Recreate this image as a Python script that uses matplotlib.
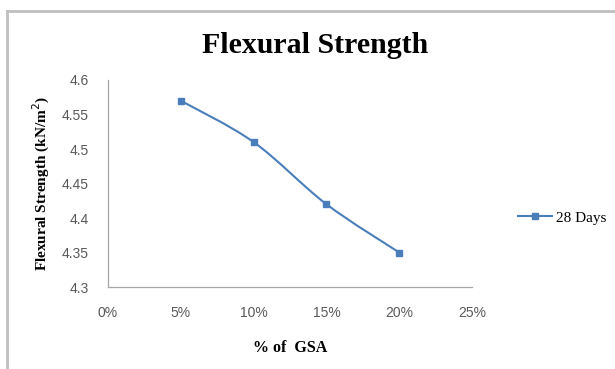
import matplotlib
matplotlib.use("Agg")
import matplotlib.pyplot as plt
from matplotlib.path import Path
from matplotlib.patches import PathPatch
from matplotlib.lines import Line2D
import numpy as np

gsa = [0.05, 0.10, 0.15, 0.20]
strength_28 = [4.57, 4.51, 4.42, 4.35]
xticks = [0, 0.05, 0.10, 0.15, 0.20, 0.25]
xtick_labels = ["0%", "5%", "10%", "15%", "20%", "25%"]
yticks = [4.3, 4.35, 4.4, 4.45, 4.5, 4.55, 4.6]
ytick_labels = ["4.3", "4.35", "4.4", "4.45", "4.5", "4.55", "4.6"]

blue = "#4a7ebb"
serif = "Liberation Serif"
sans = "Liberation Sans"

fig = plt.figure(figsize=(6.15, 3.69), dpi=100)
ax = fig.add_axes([0.1756, 0.2222, 0.592, 0.561])

# excel-style smoothed line (bezier through the points)
pts = np.column_stack([gsa, strength_28])
verts = [pts[0]]
codes = [Path.MOVETO]
n = len(pts)
for i in range(n - 1):
    p0 = pts[i - 1] if i > 0 else pts[i]
    p1 = pts[i]
    p2 = pts[i + 1]
    p3 = pts[i + 2] if i + 2 < n else pts[i + 1]
    c1 = p1 + (p2 - p0) / 6
    c2 = p2 - (p3 - p1) / 6
    verts += [c1, c2, p2]
    codes += [Path.CURVE4] * 3
ax.add_patch(PathPatch(Path(verts, codes), fill=False, edgecolor=blue, lw=1.5))
ax.plot(gsa, strength_28, ls="none", marker="s", ms=5, color=blue)

ax.set_xlim(0, 0.25)
ax.set_ylim(4.3, 4.6)
ax.set_xticks(xticks)
ax.set_xticklabels(xtick_labels, family=sans, fontsize=10, color="#595959")
ax.set_yticks(yticks)
ax.set_yticklabels(ytick_labels, family=sans, fontsize=10, color="#595959")
ax.tick_params(length=0)
ax.tick_params(axis="x", pad=14)
ax.tick_params(axis="y", pad=14)
for s in ["top", "right"]:
    ax.spines[s].set_visible(False)
for s in ["left", "bottom"]:
    ax.spines[s].set_color("#a6a6a6")
    ax.spines[s].set_linewidth(0.9)

ax.set_xlabel("% of  GSA", family=serif, fontweight="bold", fontsize=11.5, labelpad=14)
ax.set_ylabel("Flexural Strength (kN/m$^2$)", family=serif, fontweight="bold",
              fontsize=11, labelpad=7)
fig.text(0.512, 0.878, "Flexural Strength", family=serif, fontweight="bold",
         fontsize=21.5, ha="center", va="center")

handle = Line2D([], [], color=blue, lw=1.5, marker="s", ms=5)
fig.legend([handle], ["28 Days"], loc="center left", bbox_to_anchor=(0.82, 0.41),
           frameon=False, prop={"family": serif, "size": 11}, handlelength=2.2,
           handletextpad=0.3)

# outer chart frame
fig.add_artist(Line2D([0.012, 0.012], [0, 0.97], color="#bfbfbf", lw=2,
                      transform=fig.transFigure))
fig.add_artist(Line2D([0.012, 1], [0.97, 0.97], color="#bfbfbf", lw=2,
                      transform=fig.transFigure))

fig.savefig("out.png", dpi=100)
